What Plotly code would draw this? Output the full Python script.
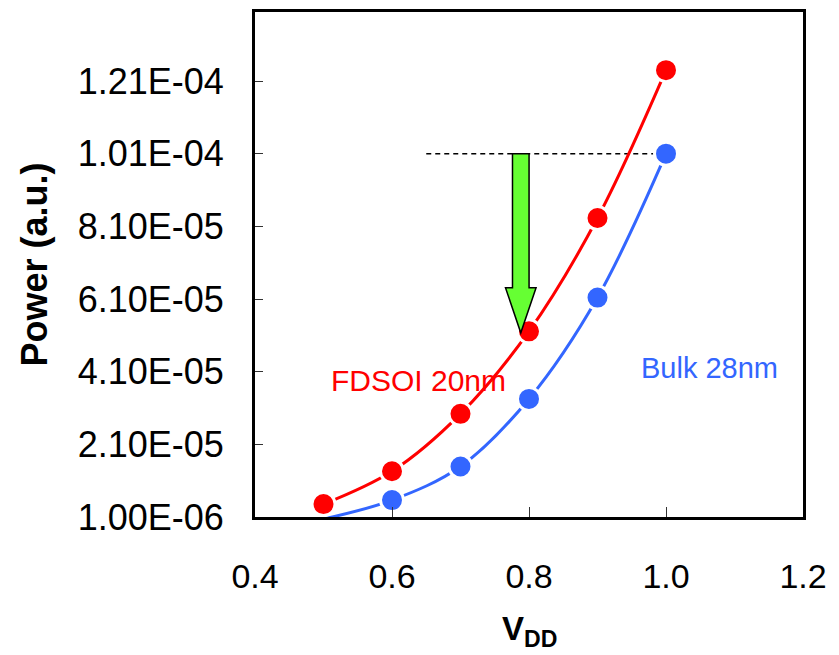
import plotly.graph_objects as go

# Supply voltage sweep
vdd = [0.5, 0.6, 0.7, 0.8, 0.9, 1.0]

# Power (a.u.) for each technology
power_fdsoi = [4.55e-6, 1.36e-5, 2.94e-5, 5.21e-5, 8.33e-5, 1.24e-4]
power_bulk = [4.5e-7, 5.65e-6, 1.49e-5, 3.35e-5, 6.14e-5, 1.01e-4]

# Axis ticks
y_tickvals = [1.0e-6, 2.1e-5, 4.1e-5, 6.1e-5, 8.1e-5, 1.01e-4, 1.21e-4]
y_ticktext = ["1.00E-06", "2.10E-05", "4.10E-05", "6.10E-05", "8.10E-05", "1.01E-04", "1.21E-04"]
x_tickvals = [0.4, 0.6, 0.8, 1.0, 1.2]

# Iso-power reference level and the arrow pointing from it to the FDSOI curve
iso_power = 1.01e-4
arrow_x = 0.788
arrow_head_y = 6.41e-5
arrow_tip_y = 5.17e-5
shaft_half = 0.0121
head_half = 0.0223

FONT = "Liberation Sans, Arial, sans-serif"
RED = "#FF0000"
BLUE = "#3366FF"

fig = go.Figure()

fig.add_trace(go.Scatter(
    x=vdd, y=power_bulk, mode="lines+markers",
    line=dict(color=BLUE, width=3, shape="spline", smoothing=1),
    marker=dict(size=23, color=BLUE, line=dict(color="white", width=3),
                opacity=[0, 1, 1, 1, 1, 1]),
    showlegend=False,
))
fig.add_trace(go.Scatter(
    x=vdd, y=power_fdsoi, mode="lines+markers",
    line=dict(color=RED, width=3, shape="spline", smoothing=1),
    marker=dict(size=23, color=RED, line=dict(color="white", width=3)),
    showlegend=False,
))

# Dashed iso-power line
fig.add_shape(type="line", xref="x", yref="y", x0=0.65, x1=1.0,
              y0=iso_power, y1=iso_power, layer="below",
              line=dict(color="black", width=1.5, dash="5px,4px"))

# Downward block arrow
xl, xr = arrow_x - shaft_half, arrow_x + shaft_half
hl, hr = arrow_x - head_half, arrow_x + head_half
path = (f"M {xl},{iso_power} L {xr},{iso_power} L {xr},{arrow_head_y} "
        f"L {hr},{arrow_head_y} L {arrow_x},{arrow_tip_y} L {hl},{arrow_head_y} "
        f"L {xl},{arrow_head_y} Z")
fig.add_shape(type="path", xref="x", yref="y", path=path, layer="above",
              fillcolor="#66FF33", line=dict(color="black", width=1.5))

# Series labels
fig.add_annotation(x=0.6394, y=3.845e-5, xref="x", yref="y", text="FDSOI 20nm",
                   showarrow=False, font=dict(family=FONT, size=30, color=RED))
fig.add_annotation(x=1.0642, y=4.2e-5, xref="x", yref="y", text="Bulk 28nm",
                   showarrow=False, font=dict(family=FONT, size=29, color=BLUE))

# Axis titles
fig.add_annotation(x=-0.4015, y=0.5, xref="paper", yref="paper",
                   xanchor="center", yanchor="middle",
                   text="<b>Power (a.u.)</b>", textangle=-90, showarrow=False,
                   font=dict(family=FONT, size=36, color="black"))
fig.add_annotation(x=0.8, y=-0.226, xref="x", yref="paper",
                   xanchor="center", yanchor="middle",
                   text="<b>V<sub>DD</sub></b>", showarrow=False,
                   font=dict(family=FONT, size=33, color="black"))

fig.update_xaxes(
    range=[0.4, 1.2], tickvals=x_tickvals, tickformat=".1f",
    ticks="inside", ticklen=10, tickwidth=1, tickcolor="#333",
    showline=True, linecolor="black", linewidth=3, mirror=True,
    showgrid=False, zeroline=False, ticklabelstandoff=27,
    tickfont=dict(family=FONT, size=34, color="black"),
)
fig.update_yaxes(
    range=[1.0e-6, 1.4e-4], tickvals=y_tickvals, ticktext=y_ticktext,
    ticks="inside", ticklen=8, tickwidth=1, tickcolor="#333",
    showline=True, linecolor="black", linewidth=3, mirror=True,
    showgrid=False, zeroline=False, ticklabelstandoff=21,
    tickfont=dict(family=FONT, size=36, color="black"),
)

fig.update_layout(
    width=839, height=655,
    margin=dict(l=255, r=36, t=9, b=138),
    paper_bgcolor="white", plot_bgcolor="white",
)

fig.write_html("out.html")
